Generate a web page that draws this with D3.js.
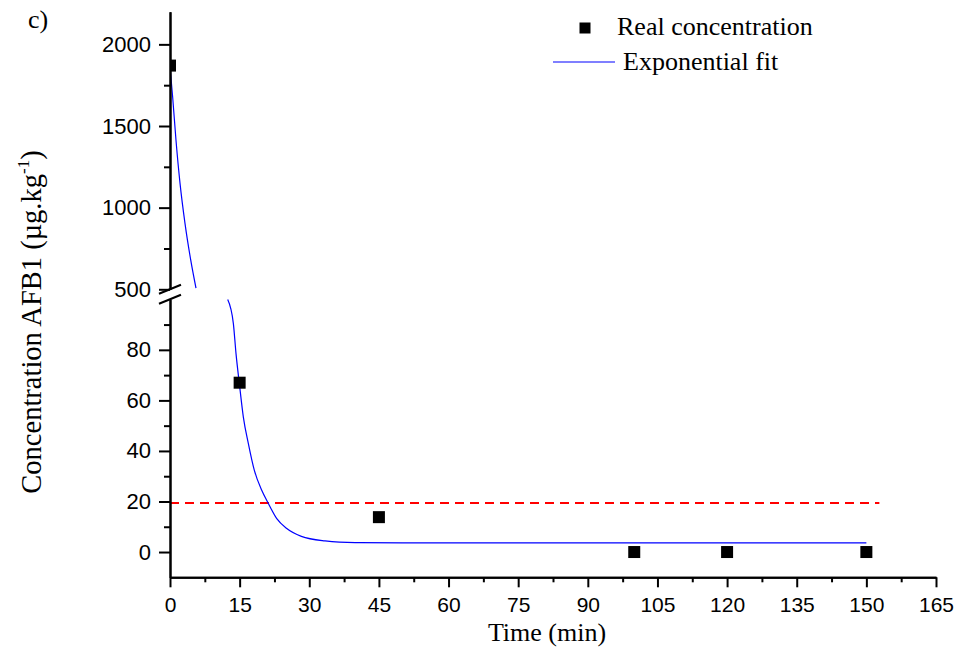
<!DOCTYPE html>
<html>
<head>
<meta charset="utf-8">
<script src="https://cdn.jsdelivr.net/npm/d3@7"></script>
<style>
  body { margin: 0; background: #fff; }
  .tick text { font-family: "Liberation Sans", Arial, sans-serif; fill: #000; }
  .serif { font-family: "Liberation Serif", "Times New Roman", serif; fill: #000; }
</style>
</head>
<body>
<div id="chart"></div>
<script>
// measured points (time in min, AFB1 in ug/kg)
const times = [0, 15, 45, 100, 120, 150];
const concentrations = [1870, 67, 13.8, 0, 0, 0];

// exponential fit curve
const fitTimes = [0, 0.57, 1.29, 2.16, 3.23, 4.46, 5.6,
                  12.43, 13.65, 14.22, 14.94, 15.8, 16.88, 18.17, 19.76, 21.19, 23, 25.15, 28.3, 33.4, 39.9, 50, 75, 100, 150];
const fitValues = [1861, 1678, 1413, 1149, 904, 680, 507,
                   99.9, 90.4, 78.5, 66.6, 53.4, 42.9, 32.3, 24.4, 19.2, 13.2, 9.3, 6.2, 4.4, 3.7, 3.6, 3.6, 3.6, 3.6];

// limit line (red dashed)
const limitValue = 19.4;
const limitTimes = [0, 152.8];

// ticks
const xTicks = [0, 15, 30, 45, 60, 75, 90, 105, 120, 135, 150, 165];
const xMinorTicks = [7.5, 22.5, 37.5, 52.5, 67.5, 82.5, 97.5, 112.5, 127.5, 142.5, 157.5];
const yUpperTicks = [500, 1000, 1500, 2000];
const yUpperMinor = [750, 1250, 1750];
const yLowerTicks = [0, 20, 40, 60, 80];
const yLowerMinor = [10, 30, 50, 70, 90];

const width = 961, height = 651;

const svg = d3.select("#chart")
  .append("svg")
    .attr("width", width)
    .attr("height", height);

// scales: one x, broken y (upper and lower part)
const x = d3.scaleLinear().domain([0, 165]).range([170, 936]);
const yUp = d3.scaleLinear().domain([500, 2200]).range([289.3, 11.7]);
const yLow = d3.scaleLinear().domain([-10, 100]).range([577.3, 299.3]);
const yOf = v => v >= 500 ? yUp(v) : yLow(v);

// clip for the data
svg.append("clipPath").attr("id", "plot-clip")
  .append("rect")
    .attr("x", x(0)).attr("y", yUp(2200))
    .attr("width", x(165) - x(0)).attr("height", yLow(-10) - yUp(2200));

const plot = svg.append("g").attr("clip-path", "url(#plot-clip)");

// red dashed limit
plot.append("line")
  .attr("x1", x(limitTimes[0])).attr("x2", x(limitTimes[1]))
  .attr("y1", yLow(limitValue)).attr("y2", yLow(limitValue))
  .attr("stroke", "#ff0000")
  .attr("stroke-width", 2)
  .attr("stroke-dasharray", "9,6");

// fit curve, split in the two y parts
const fit = fitTimes.map((t, i) => ({ t: t, v: fitValues[i] }));
const fitUpper = fit.filter(d => d.v >= 500);
const fitLower = fit.filter(d => d.v <= 100);

plot.selectAll(".fit")
  .data([[fitUpper, yUp], [fitLower, yLow]])
  .join("path")
    .attr("class", "fit")
    .attr("fill", "none")
    .attr("stroke", "#0000ff")
    .attr("stroke-width", 1.2)
    .attr("d", function(d) {
      const ys = d[1];
      return d3.line()
        .x(p => x(p.t))
        .y(p => ys(p.v))
        .curve(d3.curveMonotoneX)(d[0]);
    });

// markers
const ms = 12;
plot.selectAll(".pt")
  .data(times.map((t, i) => ({ t: t, v: concentrations[i] })))
  .join("rect")
    .attr("class", "pt")
    .attr("x", d => x(d.t) - ms / 2)
    .attr("y", d => yOf(d.v) - ms / 2)
    .attr("width", ms)
    .attr("height", ms)
    .attr("fill", "#000");

// axes
function styleAxis(g) {
  g.selectAll("path.domain").attr("stroke", "#000").attr("stroke-width", 2);
  g.selectAll(".tick line").attr("stroke", "#000").attr("stroke-width", 2);
}
const fmt = d3.format("d");

const xAxis = svg.append("g")
  .attr("transform", `translate(0, ${yLow(-10)})`)
  .call(d3.axisBottom(x).tickValues(xTicks).tickFormat(fmt).tickSize(10).tickSizeOuter(0).tickPadding(10))
  .call(styleAxis);
xAxis.selectAll(".tick text").attr("font-size", 21);

svg.append("g")
  .attr("transform", `translate(0, ${yLow(-10)})`)
  .call(d3.axisBottom(x).tickValues(xMinorTicks).tickSize(5).tickSizeOuter(0).tickFormat(""))
  .call(styleAxis);

const yAxisUp = svg.append("g")
  .attr("transform", `translate(${x(0)}, 0)`)
  .call(d3.axisLeft(yUp).tickValues(yUpperTicks).tickFormat(fmt).tickSize(11).tickSizeOuter(0).tickPadding(8))
  .call(styleAxis);
yAxisUp.selectAll(".tick text").attr("font-size", 22);

svg.append("g")
  .attr("transform", `translate(${x(0)}, 0)`)
  .call(d3.axisLeft(yUp).tickValues(yUpperMinor).tickSize(6).tickSizeOuter(0).tickFormat(""))
  .call(styleAxis);

const yAxisLow = svg.append("g")
  .attr("transform", `translate(${x(0)}, 0)`)
  .call(d3.axisLeft(yLow).tickValues(yLowerTicks).tickFormat(fmt).tickSize(11).tickSizeOuter(0).tickPadding(8))
  .call(styleAxis);
yAxisLow.selectAll(".tick text").attr("font-size", 22);

svg.append("g")
  .attr("transform", `translate(${x(0)}, 0)`)
  .call(d3.axisLeft(yLow).tickValues(yLowerMinor).tickSize(6).tickSizeOuter(0).tickFormat(""))
  .call(styleAxis);

// break marks on the y axis
svg.selectAll(".brk")
  .data([yUp(500), yLow(100)])
  .join("line")
    .attr("class", "brk")
    .attr("x1", x(0) - 11).attr("x2", x(0) + 11)
    .attr("y1", d => d + 4.5).attr("y2", d => d - 4.5)
    .attr("stroke", "#000")
    .attr("stroke-width", 2);

// axis titles
svg.append("text")
  .attr("class", "serif")
  .attr("x", 547).attr("y", 641)
  .attr("text-anchor", "middle")
  .attr("font-size", 26)
  .text("Time (min)");

const yTitle = svg.append("text")
  .attr("class", "serif")
  .attr("transform", "translate(41, 322) rotate(-90)")
  .attr("text-anchor", "middle")
  .attr("font-size", 28.5);
yTitle.append("tspan").text("Concentration AFB1 (µg.kg");
yTitle.append("tspan").attr("font-size", 17).attr("dy", -12).text("-1");
yTitle.append("tspan").attr("dy", 12).text(")");

svg.append("text")
  .attr("class", "serif")
  .attr("x", 28).attr("y", 28)
  .attr("font-size", 26)
  .text("c)");

// legend
svg.append("rect")
  .attr("x", 585 - 5.5).attr("y", 28 - 5.5)
  .attr("width", 11).attr("height", 11)
  .attr("fill", "#000");
svg.append("text")
  .attr("class", "serif")
  .attr("x", 617).attr("y", 35)
  .attr("font-size", 26)
  .text("Real concentration");
svg.append("line")
  .attr("x1", 553).attr("x2", 615)
  .attr("y1", 62).attr("y2", 62)
  .attr("stroke", "#0000ff")
  .attr("stroke-width", 1.2);
svg.append("text")
  .attr("class", "serif")
  .attr("x", 623).attr("y", 70)
  .attr("font-size", 26)
  .text("Exponential fit");
</script>
</body>
</html>
